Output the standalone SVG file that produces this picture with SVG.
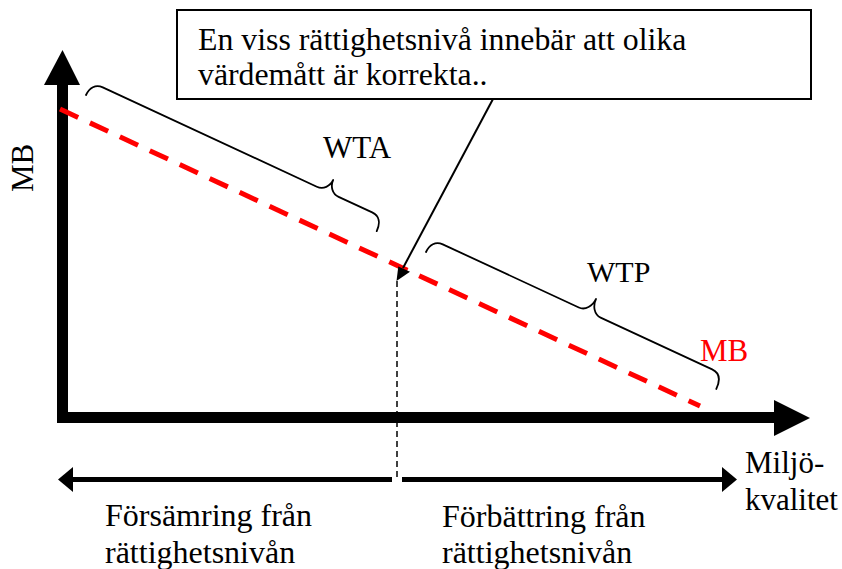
<svg xmlns="http://www.w3.org/2000/svg" width="842" height="569" viewBox="0 0 842 569">
  <style>
    text { font-family: "Liberation Serif", "Times New Roman", Times, serif; }
    .brace { fill: none; stroke: #000; stroke-width: 1.8; stroke-linecap: round; stroke-linejoin: round; }
  </style>
  <defs>
    <marker id="headSmall" markerUnits="userSpaceOnUse" markerWidth="16" markerHeight="26" refX="0" refY="12.5" orient="auto">
      <polygon points="0,0 15,12.5 0,25" fill="#000"/>
    </marker>
  </defs>
  <rect width="842" height="569" fill="#fff"/>

  <g id="axes">
    <path d="M62.5,84 L62.5,417.5 L776,417.5" fill="none" stroke="#000" stroke-width="11" stroke-linejoin="miter"/>
    <polygon points="62.5,50 44,85 80,85" fill="#000"/>
    <polygon points="810,418 774,400 774,436" fill="#000"/>
  </g>

  <g id="mb-curve">
    <line x1="60" y1="109" x2="700" y2="406" stroke="#ff0000" stroke-width="5" stroke-dasharray="20,13"/>
  </g>

  <g id="connectors">
    <line x1="397" y1="281" x2="397" y2="480" stroke="#000" stroke-width="1.5" stroke-dasharray="6,4"/>
    <line x1="392" y1="479.5" x2="73" y2="479.5" stroke="#000" stroke-width="5" marker-end="url(#headSmall)"/>
    <line x1="402" y1="479.5" x2="722" y2="479.5" stroke="#000" stroke-width="5" marker-end="url(#headSmall)"/>
    <line x1="493" y1="99" x2="403" y2="268" stroke="#000" stroke-width="2"/>
    <polygon points="396.5,281 398.3,266.5 410,271.8" fill="#000"/>
  </g>

  <g id="wta-brace" transform="translate(86,95) rotate(24.9)">
    <path class="brace" d="M0,0 C0,-8 4,-14 12,-14 L248,-14 C255,-14 260,-20 260,-27 C260,-20 265,-14 272,-14 L309,-14 C317,-14 321,-8 321,1"/>
  </g>
  <g id="wtp-brace" transform="translate(426,252) rotate(24.9)">
    <path class="brace" d="M0,0 C0,-8 4,-14 12,-14 L162,-14 C169,-14 174,-21 174,-29 C174,-21 179,-14 186,-14 L309,-14 C317,-14 321,-8 321,2"/>
  </g>

  <g id="callout">
    <rect x="177" y="10" width="634" height="89" fill="#fff" stroke="#000" stroke-width="2"/>
    <text x="198" y="50" font-size="31.8" font-family="Liberation Serif, serif">En viss rättighetsnivå innebär att olika</text>
    <text x="198" y="85" font-size="31.8" font-family="Liberation Serif, serif">värdemått är korrekta..</text>
  </g>

  <g id="labels" font-family="Liberation Serif, serif">
    <text x="323" y="158" font-size="31">WTA</text>
    <text x="587" y="282" font-size="30">WTP</text>
    <text x="700" y="361" font-size="31" fill="#ff0000">MB</text>
    <text font-size="31" transform="translate(33,192) rotate(-90)">MB</text>
    <text x="745" y="473" font-size="31">Miljö-</text>
    <text x="745" y="510" font-size="31">kvalitet</text>
    <text x="105" y="526" font-size="32">Försämring från</text>
    <text x="105" y="563" font-size="32">rättighetsnivån</text>
    <text x="442" y="527" font-size="32">Förbättring från</text>
    <text x="442" y="563" font-size="32">rättighetsnivån</text>
  </g>
</svg>
